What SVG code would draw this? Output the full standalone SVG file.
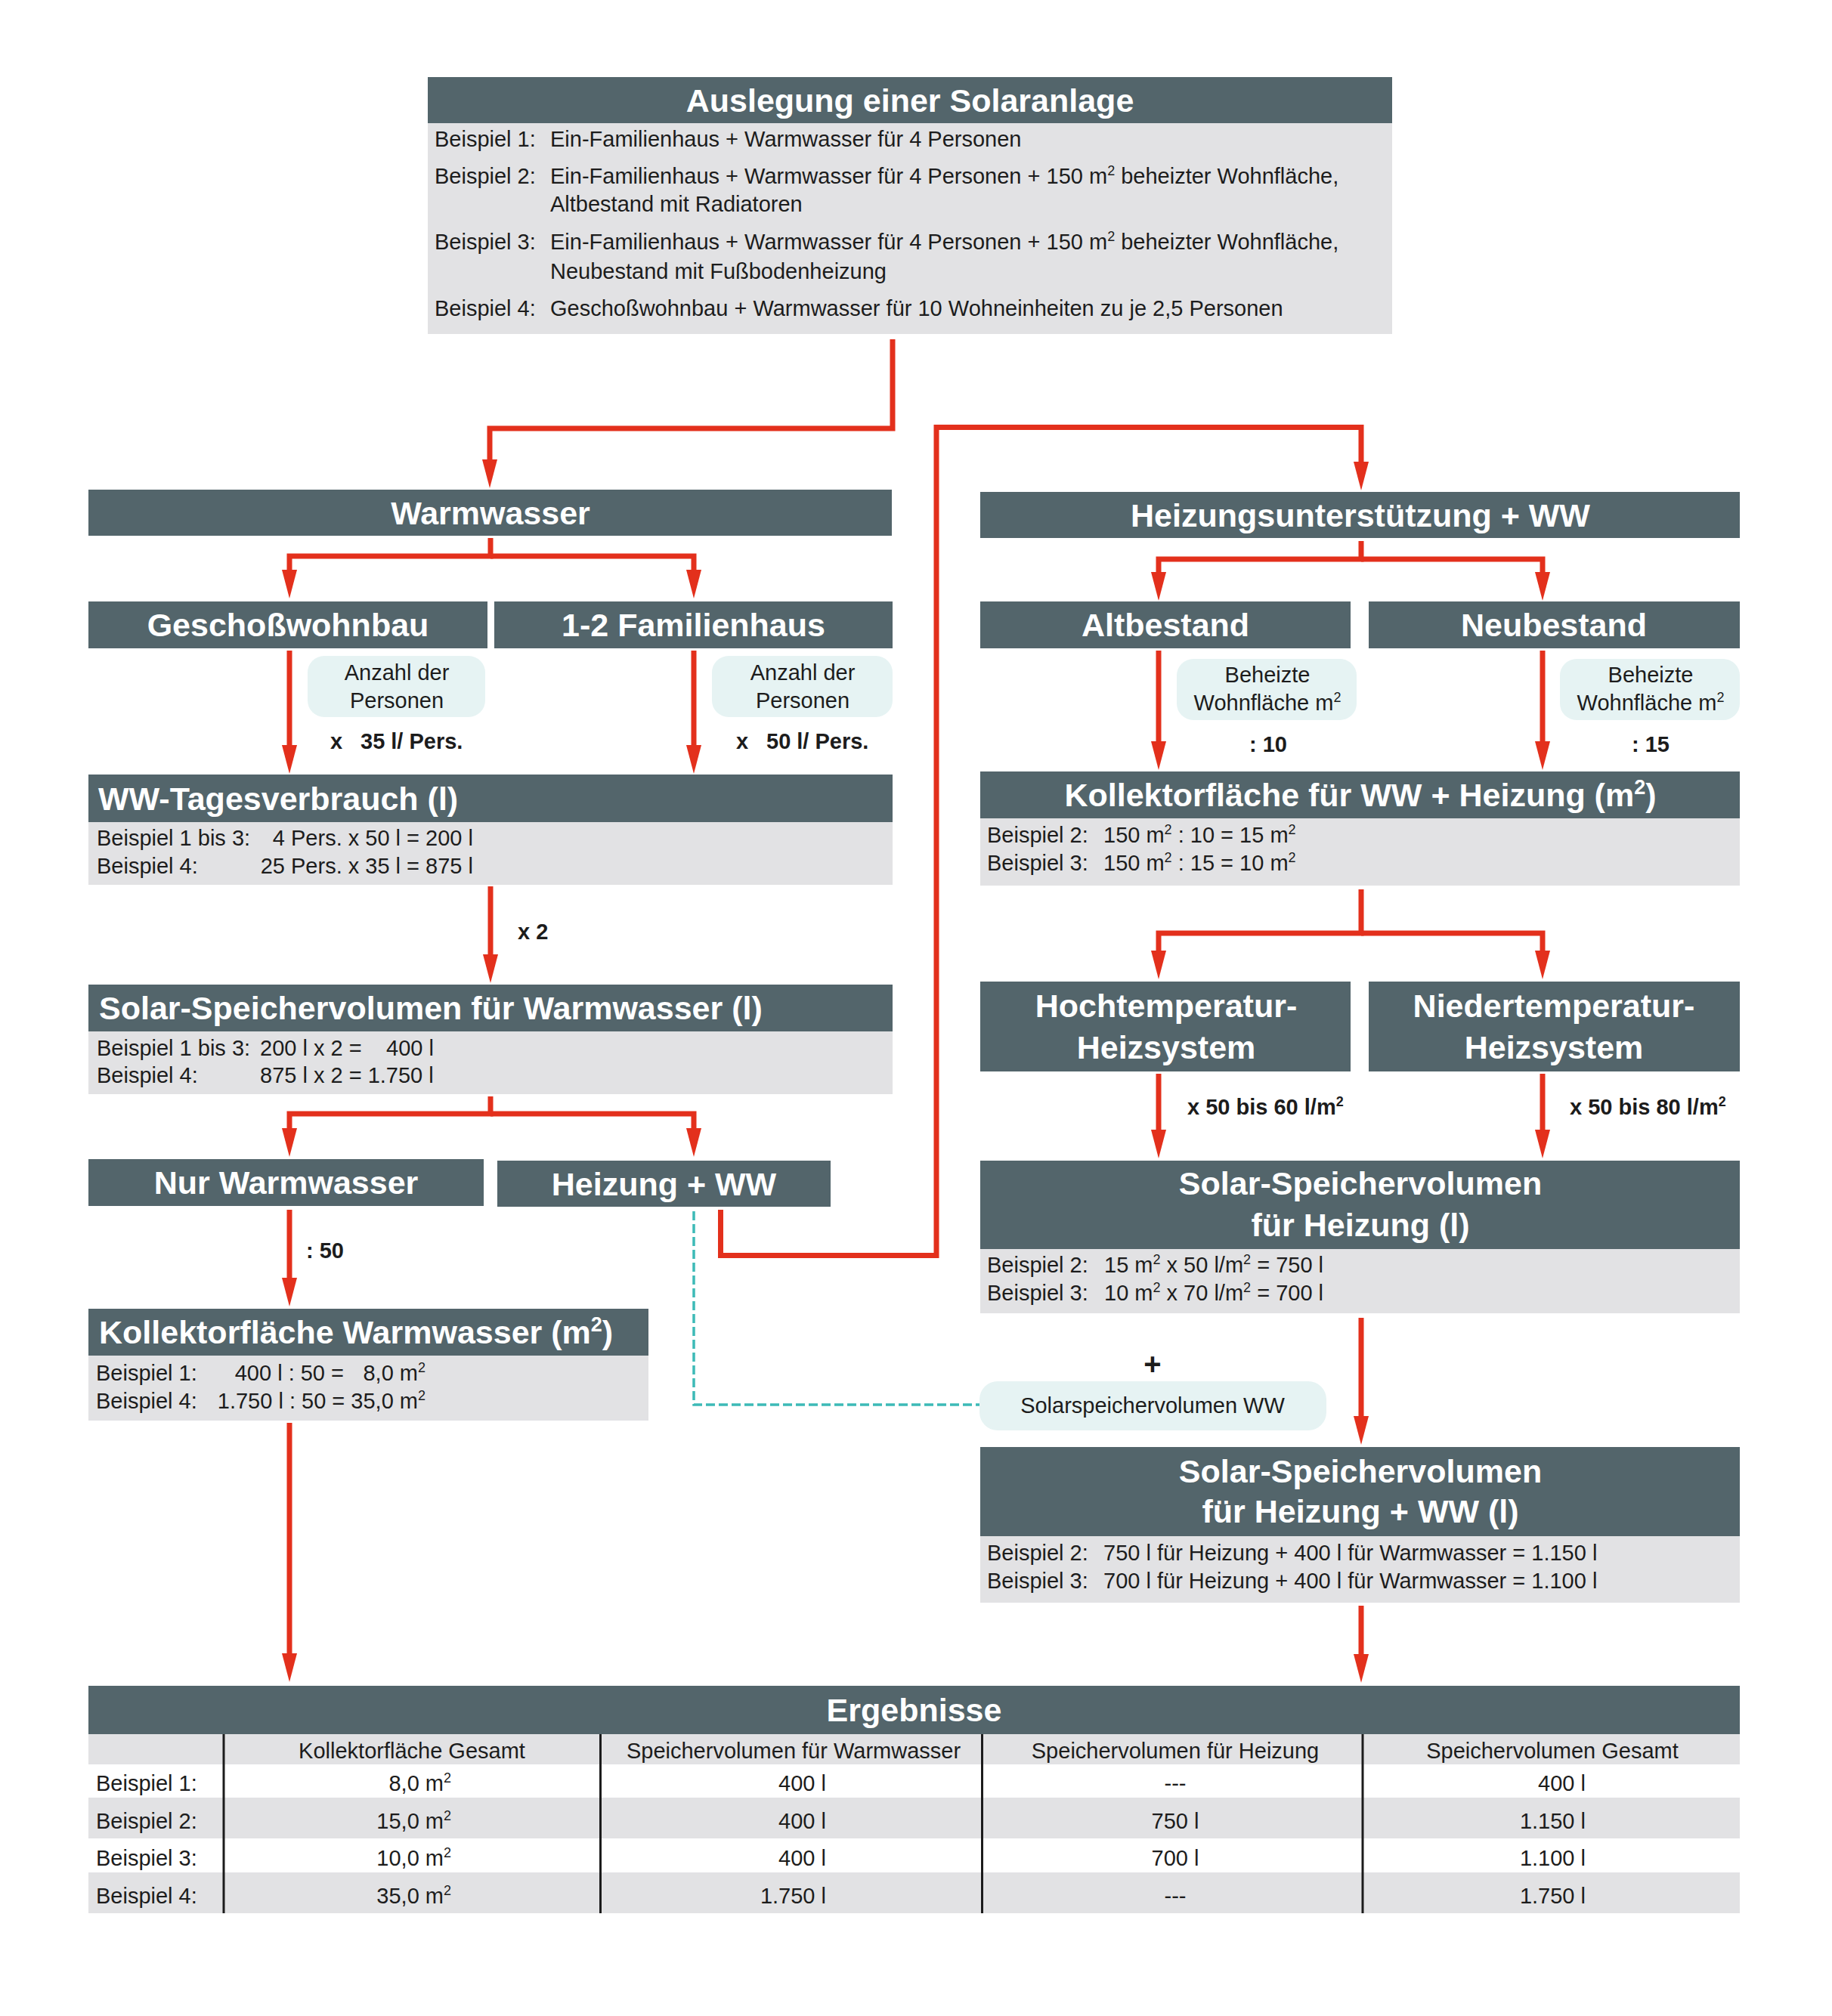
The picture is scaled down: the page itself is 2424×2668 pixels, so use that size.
<svg xmlns="http://www.w3.org/2000/svg" width="2424" height="2668" viewBox="0 0 2424 2668">
<defs>
<style>
.hd{fill:#53656b}
.bd{fill:#e2e2e4}
.bub{fill:#e6f3f3}
.ht{font-family:'Liberation Sans',Arial,sans-serif;font-weight:bold;font-size:43px;fill:#ffffff}
.t{font-family:'Liberation Sans',Arial,sans-serif;font-size:29px;fill:#1c1c1c}
.b{font-family:'Liberation Sans',Arial,sans-serif;font-weight:bold;font-size:29px;fill:#1c1c1c}
.c{text-anchor:middle}
.e{text-anchor:end}
.s{font-size:18px}
.hs{font-size:27px}
.con{fill:none;stroke:#e3301c;stroke-width:7;stroke-linejoin:miter;marker-end:url(#ah)}
.con2{fill:none;stroke:#e3301c;stroke-width:7;stroke-linejoin:miter}
.dash{fill:none;stroke:#3dbab7;stroke-width:3.5;stroke-dasharray:12 5}
.sep{stroke:#1c1c1c;stroke-width:3}
</style>
<marker id="ah" markerUnits="userSpaceOnUse" viewBox="0 -11 40 22" markerWidth="40" markerHeight="22" refX="2" refY="0" orient="auto">
<path d="M0,-10 L38,0 L0,10 Z" fill="#e3301c"/>
</marker>
</defs>
<rect width="2424" height="2668" fill="#ffffff"/>

<g id="connectors">
<path class="con" d="M1181,449 V567 H648 V610"/>
<path class="con" d="M953.5,1601 V1661.5 H1239 V565.5 H1801 V613"/>
<path class="con" d="M649,712 V736 H383 V756"/>
<path class="con" d="M649,736 H918 V756"/>
<path class="con" d="M383,861 V988"/>
<path class="con" d="M918,861 V988"/>
<path class="con" d="M649,1173 V1265"/>
<path class="con" d="M649,1451 V1474 H383 V1495"/>
<path class="con" d="M649,1474 H918 V1495"/>
<path class="con" d="M383,1601 V1693"/>
<path class="con" d="M383,1883 V2190"/>
<path class="con" d="M1801,716 V740 H1533 V759"/>
<path class="con" d="M1801,740 H2041 V759"/>
<path class="con" d="M1533,861 V983"/>
<path class="con" d="M2041,861 V983"/>
<path class="con" d="M1801,1177 V1235 H1533 V1260"/>
<path class="con" d="M1801,1235 H2041 V1260"/>
<path class="con" d="M1533,1421 V1497"/>
<path class="con" d="M2041,1421 V1497"/>
<path class="con" d="M1801,1744 V1876"/>
<path class="con" d="M1801,2125 V2191"/>
<path class="dash" d="M918,1603 V1859 H1296"/>
</g>

<g id="title">
<rect class="bd" x="566" y="102" width="1276" height="340"/>
<rect class="hd" x="566" y="102" width="1276" height="61"/>
<text class="ht c" x="1204" y="148">Auslegung einer Solaranlage</text>
<text class="t" x="575" y="194">Beispiel 1:</text>
<text class="t" x="728" y="194">Ein-Familienhaus + Warmwasser für 4 Personen</text>
<text class="t" x="575" y="243">Beispiel 2:</text>
<text class="t" x="728" y="243">Ein-Familienhaus + Warmwasser für 4 Personen + 150 m<tspan class="s" dy="-11">2</tspan><tspan dy="11"> beheizter Wohnfläche,</tspan></text>
<text class="t" x="728" y="280">Altbestand mit Radiatoren</text>
<text class="t" x="575" y="330">Beispiel 3:</text>
<text class="t" x="728" y="330">Ein-Familienhaus + Warmwasser für 4 Personen + 150 m<tspan class="s" dy="-11">2</tspan><tspan dy="11"> beheizter Wohnfläche,</tspan></text>
<text class="t" x="728" y="369">Neubestand mit Fußbodenheizung</text>
<text class="t" x="575" y="418">Beispiel 4:</text>
<text class="t" x="728" y="418">Geschoßwohnbau + Warmwasser für 10 Wohneinheiten zu je 2,5 Personen</text>
</g>

<g id="warmwasser">
<rect class="hd" x="117" y="648" width="1063" height="61"/>
<text class="ht c" x="649" y="694">Warmwasser</text>
</g>

<g id="heizungsunterstuetzung">
<rect class="hd" x="1297" y="651" width="1005" height="61"/>
<text class="ht c" x="1800" y="697">Heizungsunterstützung + WW</text>
</g>

<g id="geschosswohnbau">
<rect class="hd" x="117" y="796" width="528" height="62"/>
<text class="ht c" x="381" y="842">Geschoßwohnbau</text>
</g>

<g id="familienhaus">
<rect class="hd" x="654" y="796" width="527" height="62"/>
<text class="ht c" x="917.5" y="842">1-2 Familienhaus</text>
</g>

<g id="altbestand">
<rect class="hd" x="1297" y="796" width="490" height="62"/>
<text class="ht c" x="1542" y="842">Altbestand</text>
</g>

<g id="neubestand">
<rect class="hd" x="1811" y="796" width="491" height="62"/>
<text class="ht c" x="2056" y="842">Neubestand</text>
</g>

<g id="anzahl-1">
<rect class="bub" x="407" y="868" width="235" height="81" rx="22"/>
<text class="t c" x="525" y="900">Anzahl der</text>
<text class="t c" x="525" y="937">Personen</text>
</g>
<g id="label-35">
<text class="b" y="991"><tspan x="437">x</tspan><tspan x="477">35 l/ Pers.</tspan></text>
</g>

<g id="anzahl-2">
<rect class="bub" x="942" y="868" width="239" height="81" rx="22"/>
<text class="t c" x="1062" y="900">Anzahl der</text>
<text class="t c" x="1062" y="937">Personen</text>
</g>
<g id="label-50">
<text class="b" y="991"><tspan x="974">x</tspan><tspan x="1014">50 l/ Pers.</tspan></text>
</g>

<g id="beheizt-1">
<rect class="bub" x="1557" y="872" width="238" height="81" rx="22"/>
<text class="t c" x="1677" y="903">Beheizte</text>
<text class="t c" x="1677" y="940">Wohnfläche m<tspan class="s" dy="-11">2</tspan></text>
</g>
<g id="label-10">
<text class="b" x="1653" y="995">: 10</text>
</g>

<g id="beheizt-2">
<rect class="bub" x="2064" y="872" width="238" height="81" rx="22"/>
<text class="t c" x="2184" y="903">Beheizte</text>
<text class="t c" x="2184" y="940">Wohnfläche m<tspan class="s" dy="-11">2</tspan></text>
</g>
<g id="label-15">
<text class="b" x="2159" y="995">: 15</text>
</g>

<g id="ww-tagesverbrauch">
<rect class="bd" x="117" y="1025" width="1064" height="146"/>
<rect class="hd" x="117" y="1025" width="1064" height="63"/>
<text class="ht" x="130" y="1072">WW-Tagesverbrauch (l)</text>
<text class="t" x="128" y="1119">Beispiel 1 bis 3:</text>
<text class="t e" x="626" y="1119">4 Pers. x 50 l = 200 l</text>
<text class="t" x="128" y="1156">Beispiel 4:</text>
<text class="t e" x="626" y="1156">25 Pers. x 35 l = 875 l</text>
</g>

<g id="kollektor-ww-heizung">
<rect class="bd" x="1297" y="1021" width="1005" height="151"/>
<rect class="hd" x="1297" y="1021" width="1005" height="62"/>
<text class="ht c" x="1800" y="1067">Kollektorfläche für WW + Heizung (m<tspan class="hs" dy="-16">2</tspan><tspan dy="16">)</tspan></text>
<text class="t" x="1306" y="1115">Beispiel 2:</text>
<text class="t" x="1460" y="1115">150 m<tspan class="s" dy="-11">2</tspan><tspan dy="11"> : 10 = 15 m</tspan><tspan class="s" dy="-11">2</tspan></text>
<text class="t" x="1306" y="1152">Beispiel 3:</text>
<text class="t" x="1460" y="1152">150 m<tspan class="s" dy="-11">2</tspan><tspan dy="11"> : 15 = 10 m</tspan><tspan class="s" dy="-11">2</tspan></text>
</g>

<g id="label-x2">
<text class="b" x="685" y="1243">x 2</text>
</g>

<g id="solar-ww">
<rect class="bd" x="117" y="1303" width="1064" height="145"/>
<rect class="hd" x="117" y="1303" width="1064" height="62"/>
<text class="ht" x="131" y="1349">Solar-Speichervolumen für Warmwasser (l)</text>
<text class="t" x="128" y="1397">Beispiel 1 bis 3:</text>
<text class="t" x="344" y="1397">200 l x 2 =</text>
<text class="t e" x="574" y="1397">400 l</text>
<text class="t" x="128" y="1433">Beispiel 4:</text>
<text class="t" x="344" y="1433">875 l x 2 = 1.750 l</text>
</g>

<g id="hochtemperatur">
<rect class="hd" x="1297" y="1299" width="490" height="119"/>
<text class="ht c" x="1543" y="1346">Hochtemperatur-</text>
<text class="ht c" x="1543" y="1401">Heizsystem</text>
</g>

<g id="niedertemperatur">
<rect class="hd" x="1811" y="1299" width="491" height="119"/>
<text class="ht c" x="2056" y="1346">Niedertemperatur-</text>
<text class="ht c" x="2056" y="1401">Heizsystem</text>
</g>

<g id="label-50-60">
<text class="b" x="1571" y="1475">x 50 bis 60 l/m<tspan class="s" dy="-11">2</tspan></text>
</g>
<g id="label-50-80">
<text class="b" x="2077" y="1475">x 50 bis 80 l/m<tspan class="s" dy="-11">2</tspan></text>
</g>

<g id="nur-warmwasser">
<rect class="hd" x="117" y="1534" width="523" height="62"/>
<text class="ht c" x="378.5" y="1580">Nur Warmwasser</text>
</g>

<g id="heizung-ww">
<rect class="hd" x="658" y="1536" width="441" height="61"/>
<text class="ht c" x="878.5" y="1582">Heizung + WW</text>
</g>

<g id="solar-heizung">
<rect class="bd" x="1297" y="1536" width="1005" height="202"/>
<rect class="hd" x="1297" y="1536" width="1005" height="117"/>
<text class="ht c" x="1800" y="1581">Solar-Speichervolumen</text>
<text class="ht c" x="1800" y="1636">für Heizung (l)</text>
<text class="t" x="1306" y="1684">Beispiel 2:</text>
<text class="t" x="1461" y="1684">15 m<tspan class="s" dy="-11">2</tspan><tspan dy="11"> x 50 l/m</tspan><tspan class="s" dy="-11">2</tspan><tspan dy="11"> = 750 l</tspan></text>
<text class="t" x="1306" y="1721">Beispiel 3:</text>
<text class="t" x="1461" y="1721">10 m<tspan class="s" dy="-11">2</tspan><tspan dy="11"> x 70 l/m</tspan><tspan class="s" dy="-11">2</tspan><tspan dy="11"> = 700 l</tspan></text>
</g>

<g id="label-div50">
<text class="b" x="405" y="1665">: 50</text>
</g>

<g id="kollektor-ww">
<rect class="bd" x="117" y="1732" width="741" height="148"/>
<rect class="hd" x="117" y="1732" width="741" height="62"/>
<text class="ht" x="131" y="1778">Kollektorfläche Warmwasser (m<tspan class="hs" dy="-16">2</tspan><tspan dy="16">)</tspan></text>
<text class="t" x="127" y="1827">Beispiel 1:</text>
<text class="t e" x="455" y="1827">400 l : 50 =</text>
<text class="t e" x="563" y="1827">8,0 m<tspan class="s" dy="-11">2</tspan></text>
<text class="t" x="127" y="1864">Beispiel 4:</text>
<text class="t e" x="563" y="1864">1.750 l : 50 = 35,0 m<tspan class="s" dy="-11">2</tspan></text>
</g>

<g id="plus">
<text class="b c" x="1525" y="1819" style="font-size:40px">+</text>
</g>

<g id="solarspeicher-ww">
<rect class="bub" x="1296" y="1828" width="459" height="65" rx="24"/>
<text class="t c" x="1525" y="1870">Solarspeichervolumen WW</text>
</g>

<g id="solar-heizung-ww">
<rect class="bd" x="1297" y="1915" width="1005" height="206"/>
<rect class="hd" x="1297" y="1915" width="1005" height="118"/>
<text class="ht c" x="1800" y="1962">Solar-Speichervolumen</text>
<text class="ht c" x="1800" y="2015">für Heizung + WW (l)</text>
<text class="t" x="1306" y="2065">Beispiel 2:</text>
<text class="t" x="1460" y="2065">750 l für Heizung + 400 l für Warmwasser = 1.150 l</text>
<text class="t" x="1306" y="2102">Beispiel 3:</text>
<text class="t" x="1460" y="2102">700 l für Heizung + 400 l für Warmwasser = 1.100 l</text>
</g>

<g id="ergebnisse">
<rect class="hd" x="117" y="2231" width="2185" height="64"/>
<text class="ht c" x="1209.5" y="2278">Ergebnisse</text>
<rect class="bd" x="117" y="2295" width="2185" height="40"/>
<rect class="bd" x="117" y="2379" width="2185" height="54"/>
<rect class="bd" x="117" y="2478" width="2185" height="54"/>
<line class="sep" x1="296" y1="2295" x2="296" y2="2532"/>
<line class="sep" x1="794.5" y1="2295" x2="794.5" y2="2532"/>
<line class="sep" x1="1299.5" y1="2295" x2="1299.5" y2="2532"/>
<line class="sep" x1="1803" y1="2295" x2="1803" y2="2532"/>
<text class="t c" x="545" y="2327">Kollektorfläche Gesamt</text>
<text class="t c" x="1050" y="2327">Speichervolumen für Warmwasser</text>
<text class="t c" x="1555" y="2327">Speichervolumen für Heizung</text>
<text class="t c" x="2054" y="2327">Speichervolumen Gesamt</text>
<text class="t" x="127" y="2370">Beispiel 1:</text>
<text class="t" x="127" y="2420">Beispiel 2:</text>
<text class="t" x="127" y="2469">Beispiel 3:</text>
<text class="t" x="127" y="2519">Beispiel 4:</text>
<text class="t e" x="597" y="2370">8,0 m<tspan class="s" dy="-11">2</tspan></text>
<text class="t e" x="597" y="2420">15,0 m<tspan class="s" dy="-11">2</tspan></text>
<text class="t e" x="597" y="2469">10,0 m<tspan class="s" dy="-11">2</tspan></text>
<text class="t e" x="597" y="2519">35,0 m<tspan class="s" dy="-11">2</tspan></text>
<text class="t e" x="1093" y="2370">400 l</text>
<text class="t e" x="1093" y="2420">400 l</text>
<text class="t e" x="1093" y="2469">400 l</text>
<text class="t e" x="1093" y="2519">1.750 l</text>
<text class="t c" x="1555" y="2370">---</text>
<text class="t c" x="1555" y="2420">750 l</text>
<text class="t c" x="1555" y="2469">700 l</text>
<text class="t c" x="1555" y="2519">---</text>
<text class="t e" x="2098" y="2370">400 l</text>
<text class="t e" x="2098" y="2420">1.150 l</text>
<text class="t e" x="2098" y="2469">1.100 l</text>
<text class="t e" x="2098" y="2519">1.750 l</text>
</g>
</svg>
